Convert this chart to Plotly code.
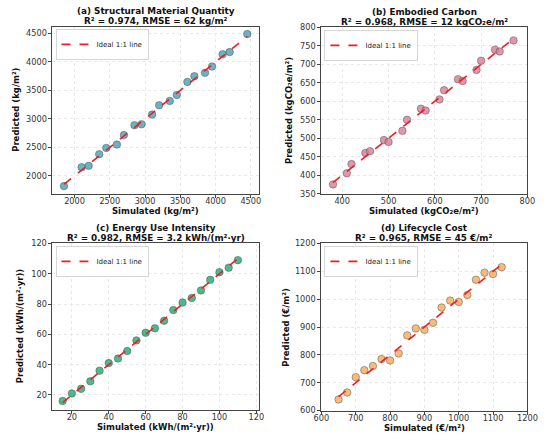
import plotly.graph_objects as go

# simulated vs predicted, 20 samples per target
sim_qty = [1850, 2100, 2200, 2350, 2450, 2600, 2700, 2850, 2950, 3100,
           3200, 3350, 3450, 3600, 3700, 3850, 3950, 4100, 4200, 4450]
pred_qty = [1820, 2150, 2175, 2380, 2490, 2550, 2715, 2890, 2905, 3075,
            3240, 3315, 3420, 3650, 3750, 3810, 3920, 4135, 4175, 4490]

sim_carbon = [380, 410, 420, 450, 460, 490, 500, 530, 540, 570,
              580, 610, 620, 650, 660, 690, 700, 730, 740, 770]
pred_carbon = [375, 405, 430, 460, 465, 495, 490, 520, 550, 580,
               575, 605, 630, 660, 655, 685, 710, 740, 735, 765]

sim_eui = [15, 20, 25, 30, 35, 40, 45, 50, 55, 60,
           65, 70, 75, 80, 85, 90, 95, 100, 105, 110]
pred_eui = [16, 21, 24, 29, 36, 41, 44, 49, 56, 61,
            64, 69, 76, 81, 84, 89, 96, 101, 104, 109]

sim_cost = [650, 675, 700, 725, 750, 775, 800, 825, 850, 875,
            900, 925, 950, 975, 1000, 1025, 1050, 1075, 1100, 1125]
pred_cost = [640, 665, 720, 745, 760, 785, 780, 805, 870, 895,
             890, 915, 970, 995, 990, 1015, 1070, 1095, 1090, 1115]

titles = ["(a) Structural Material Quantity", "(b) Embodied Carbon",
          "(c) Energy Use Intensity", "(d) Lifecycle Cost"]
scores = ["R² = 0.974, RMSE = 62 kg/m²", "R² = 0.968, RMSE = 12 kgCO₂e/m²",
          "R² = 0.982, RMSE = 3.2 kWh/(m²·yr)", "R² = 0.965, RMSE = 45 €/m²"]
xlabels = ["Simulated (kg/m²)", "Simulated (kgCO₂e/m²)",
           "Simulated (kWh/(m²·yr))", "Simulated (€/m²)"]
ylabels = ["Predicted (kg/m²)", "Predicted (kgCO₂e/m²)",
           "Predicted (kWh/(m²·yr))", "Predicted (€/m²)"]
colors = ["rgba(70,160,180,0.8)", "rgba(215,125,150,0.8)",
          "rgba(30,170,115,0.8)", "rgba(245,170,90,0.8)"]

xranges = [[1687, 4623], [355, 800], [9.5, 121.7], [600, 1200]]
yranges = [[1687, 4623], [350, 800], [10.3, 120], [600, 1200]]
xticks = [[2000, 2500, 3000, 3500, 4000, 4500], [400, 500, 600, 700, 800],
          [20, 40, 60, 80, 100, 120], [600, 700, 800, 900, 1000, 1100, 1200]]
yticks = [[2000, 2500, 3000, 3500, 4000, 4500],
          [350, 400, 450, 500, 550, 600, 650, 700, 750, 800],
          [20, 40, 60, 80, 100, 120],
          [600, 700, 800, 900, 1000, 1100, 1200]]

data = [(sim_qty, pred_qty), (sim_carbon, pred_carbon),
        (sim_eui, pred_eui), (sim_cost, pred_cost)]

W, H = 550, 441
# axes boxes in pixels: left, right, top, bottom
boxes = [(46, 260, 22, 193), (324, 537, 23, 193),
         (46, 260, 244, 414), (324, 537, 244, 415)]
# centre of the y-axis title, in pixels from the left
ytitle_x = [8, 290, 12, 287]

fig = go.Figure()
font = "DejaVu Sans"


def paper_y(py):
    return 1 - py / H


for i, (sim, pred) in enumerate(data):
    n = "" if i == 0 else str(i + 1)
    xa, ya = "x" + n, "y" + n
    leg = "legend" + n
    fig.add_trace(go.Scatter(
        x=sim, y=pred, mode="markers", xaxis=xa, yaxis=ya, showlegend=False,
        marker=dict(size=7.5, color=colors[i], line=dict(color="rgba(60,60,60,0.7)", width=0.6)),
    ))
    lo, hi = min(sim), max(sim)
    fig.add_trace(go.Scatter(
        x=[lo, hi], y=[lo, hi], mode="lines", xaxis=xa, yaxis=ya,
        name="Ideal 1:1 line", legend=leg,
        line=dict(color="#ee1c25", width=1.6, dash="dash"),
    ))

    l, r, t, b = boxes[i]
    ax = dict(showline=True, linecolor="#444", linewidth=1, mirror=True,
              ticks="outside", ticklen=3, tickcolor="#444",
              showgrid=True, gridcolor="#e8e8e8", griddash="dot", gridwidth=0.8,
              zeroline=False, tickfont=dict(family=font, size=8.2, color="#333"))
    fig.layout["xaxis" + n] = dict(
        ax, domain=[l / W, r / W], range=xranges[i], tickvals=xticks[i],
        anchor=ya, ticklabelstandoff=-3,
    )
    fig.layout["yaxis" + n] = dict(
        ax, domain=[paper_y(b), paper_y(t)], range=yranges[i], tickvals=yticks[i],
        anchor=xa,
    )
    fig.layout[leg] = dict(
        x=l / W + 0.006, y=paper_y(t) - 0.006, xanchor="left", yanchor="top",
        bgcolor="rgba(255,255,255,0.9)", bordercolor="#ccc", borderwidth=0.8,
        font=dict(family=font, size=7, color="#222"), itemwidth=30,
        tracegroupgap=0,
    )
    cx = (l + r) / 2 / W
    fig.add_annotation(
        x=cx, y=paper_y(t - 15.5), xref="paper", yref="paper",
        xanchor="center", yanchor="middle", showarrow=False,
        text="<b>" + titles[i] + "</b>",
        font=dict(family=font, size=8.8, color="#111"),
    )
    fig.add_annotation(
        x=cx, y=paper_y(t - 5.7), xref="paper", yref="paper",
        xanchor="center", yanchor="middle", showarrow=False,
        text="<b>" + scores[i] + "</b>",
        font=dict(family=font, size=8.8, color="#111"),
    )
    fig.add_annotation(
        x=cx, y=paper_y(b + 18), xref="paper", yref="paper",
        xanchor="center", yanchor="middle", showarrow=False,
        text="<b>" + xlabels[i] + "</b>",
        font=dict(family=font, size=8.5, color="#111"),
    )
    fig.add_annotation(
        x=ytitle_x[i] / W, y=paper_y((t + b) / 2), xref="paper", yref="paper",
        xanchor="center", yanchor="middle", showarrow=False, textangle=-90,
        text="<b>" + ylabels[i] + "</b>",
        font=dict(family=font, size=8.5, color="#111"),
    )

fig.update_layout(
    width=W, height=H, margin=dict(l=0, r=0, t=0, b=0),
    paper_bgcolor="white", plot_bgcolor="white",
)

# the page body has a default 8px margin; drop it so the figure sits at 0,0
fig.write_html("out.html", config={"displayModeBar": False},
               post_script="document.body.style.margin='0';")
